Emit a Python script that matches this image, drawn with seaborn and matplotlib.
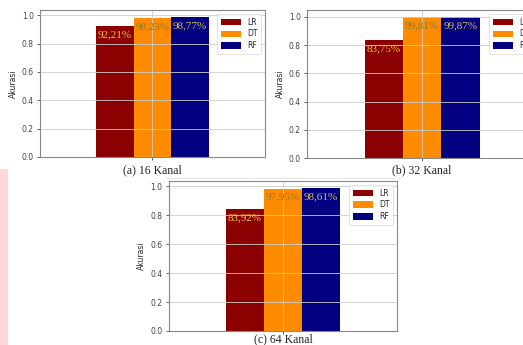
import numpy as np
import pandas as pd
import seaborn as sns
import matplotlib.pyplot as plt
from matplotlib.lines import Line2D
from matplotlib.patches import Rectangle

models = ["LR", "DT", "RF"]
colors = ["#8B0000", "#FF8C00", "#000080"]
captions = ["(a) 16 Kanal", "(b) 32 Kanal", "(c) 64 Kanal"]
acc_16 = [0.9221, 0.9823, 0.9877]
acc_32 = [0.8375, 0.9981, 0.9987]
acc_64 = [0.8392, 0.9795, 0.9861]
labels_16 = ["92,21%", "98,23%", "98,77%"]
labels_32 = ["83,75%", "99,81%", "99,87%"]
labels_64 = ["83,92%", "97.95%", "98,61%"]

# label text colour per bar (yellow reads differently on each fill)
text_colors = ["#E8C83A", "#8A7A2C", "#D6BE5A"]

sns.set_style("white")
plt.rcParams["font.family"] = ["DejaVu Sans"]
plt.rcParams["axes.axisbelow"] = "line"

fig = plt.figure(figsize=(5.23, 3.45), dpi=100)

# panel boxes in figure fractions: left, bottom, width, height
boxes = [
    [0.0765, 0.545, 0.430, 0.426],
    [0.587, 0.542, 0.440, 0.429],
    [0.323, 0.0406, 0.436, 0.4348],
]
cap_pos = [(0.291, 0.497), (0.807, 0.497), (0.541, 0.008)]
panels = [(acc_16, labels_16), (acc_32, labels_32), (acc_64, labels_64)]


def draw_panel(ax, values, labels):
    df = pd.DataFrame({"grup": [""] * 3, "model": models, "akurasi": values})
    sns.barplot(data=df, x="grup", y="akurasi", hue="model", hue_order=models,
                palette=colors, width=0.5, saturation=1, ax=ax, legend=True,
                edgecolor="none", linewidth=0)
    for cont, lab, tc in zip(ax.containers, labels, text_colors):
        ax.bar_label(cont, labels=[lab], padding=-9.5, color=tc,
                     fontsize=8, family="Liberation Serif")
    ax.grid(True, color="#cccccc", linewidth=0.6)
    ax.set_xlabel("")
    ax.set_ylabel("Akurasi", fontsize=5.5, labelpad=3)
    ax.set_yticks(np.arange(0, 1.01, 0.2))
    ax.set_yticklabels([f"{t:.1f}" for t in np.arange(0, 1.01, 0.2)])
    ax.tick_params(axis="both", labelsize=5.5, length=2.5, width=0.6,
                   colors="#444444", left=True, bottom=True, pad=2)
    ax.set_xticklabels([])
    for sp in ax.spines.values():
        sp.set_color("#888888")
        sp.set_linewidth(0.8)
    leg = ax.legend(loc="upper right", fontsize=5.5, frameon=True,
                    handlelength=2.6, handleheight=0.9, borderpad=0.5,
                    labelspacing=0.35, fancybox=True)
    leg.get_frame().set_linewidth(0.5)
    leg.get_frame().set_edgecolor("#cccccc")


for box, (vals, labs), cap, pos in zip(boxes, panels, captions, cap_pos):
    ax = fig.add_axes(box)
    draw_panel(ax, vals, labs)
    fig.text(pos[0], pos[1], cap, ha="center", va="baseline",
             fontsize=8.5, family="Liberation Serif", color="#222222")

# page decorations from the screenshot
fig.add_artist(Rectangle((0, 0), 0.016, 0.51, transform=fig.transFigure,
                         facecolor="#FFD6DC", edgecolor="none"))
fig.add_artist(Line2D([0.32, 0.765], [0.483, 0.483], transform=fig.transFigure,
                      color="#e0e0e0", linewidth=0.6))

fig.savefig("out.png", dpi=100)
